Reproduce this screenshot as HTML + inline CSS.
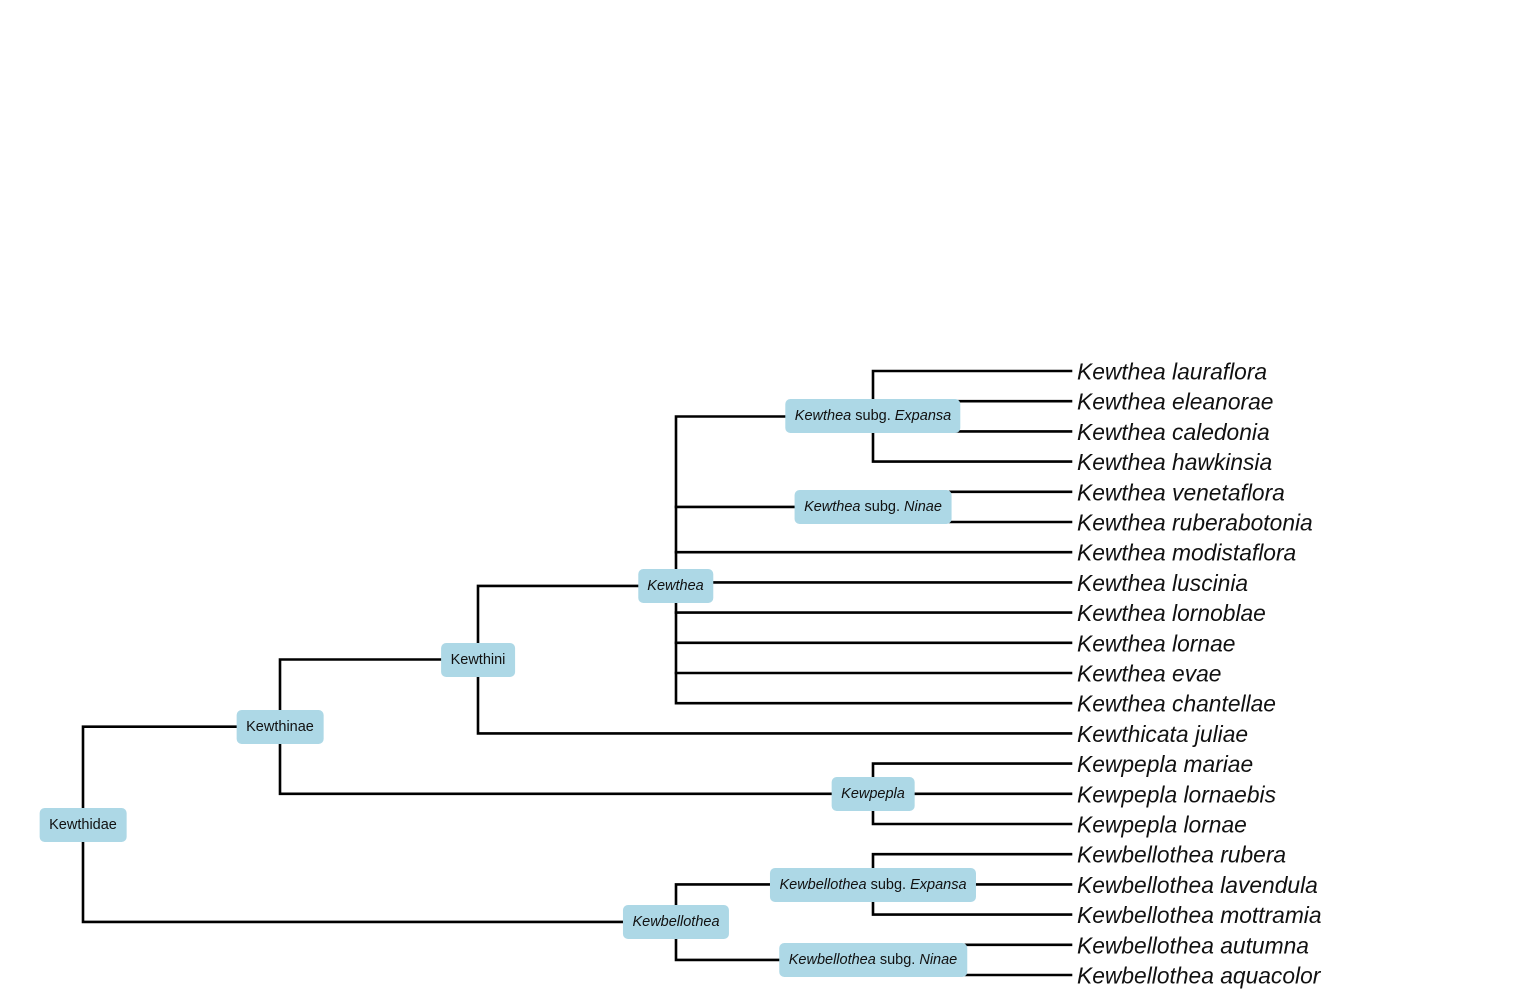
<!DOCTYPE html>
<html>
<head>
<meta charset="utf-8">
<style>
  html, body { margin:0; padding:0; background:#fff; }
  body { width:1536px; height:1008px; position:relative; overflow:hidden; font-family:"Liberation Sans", Arial, sans-serif; }
  svg { position:absolute; left:0; top:0; }
  .n { position:absolute; transform:translate(-50%,-50%); height:34px; line-height:34px; padding:0 9.5px;
       background:#add8e6; border-radius:5px; font-size:14.5px; color:#111; white-space:nowrap; }
  .n i { font-style:italic; }
  .leaf { font-family:"Liberation Sans", Arial, sans-serif; font-style:italic; font-size:22.8px; fill:#111; }
</style>
</head>
<body>
<svg width="1536" height="1008" viewBox="0 0 1536 1008">
  <g stroke="#000" stroke-width="2.6" fill="none" stroke-linecap="square">
    <path d="M280 726.7 H83 V921.9 H676"/>
    <path d="M478 659.5 H280 V793.8 H873"/>
    <path d="M676 585.9 H478 V733.4 H1071"/>
    <path d="M873 416.5 H676 V703.2 H1071"/>
    <path d="M676 506.9 H873"/>
    <path d="M676 552.2 H1071"/>
    <path d="M676 582.4 H1071"/>
    <path d="M676 612.6 H1071"/>
    <path d="M676 642.8 H1071"/>
    <path d="M676 673 H1071"/>
    <path d="M1071 371 H873 V461.6 H1071"/>
    <path d="M873 401.2 H1071"/>
    <path d="M873 431.4 H1071"/>
    <path d="M1071 491.8 H873 V522 H1071"/>
    <path d="M1071 763.6 H873 V824 H1071"/>
    <path d="M873 793.8 H1071"/>
    <path d="M873 884.4 H676 V959.9 H873"/>
    <path d="M1071 854.2 H873 V914.6 H1071"/>
    <path d="M873 884.4 H1071"/>
    <path d="M1071 944.8 H873 V975 H1071"/>
  </g>
  <g class="leaf">
    <text x="1077" y="379.5">Kewthea lauraflora</text>
    <text x="1077" y="409.7">Kewthea eleanorae</text>
    <text x="1077" y="439.9">Kewthea caledonia</text>
    <text x="1077" y="470.1">Kewthea hawkinsia</text>
    <text x="1077" y="500.3">Kewthea venetaflora</text>
    <text x="1077" y="530.5">Kewthea ruberabotonia</text>
    <text x="1077" y="560.7">Kewthea modistaflora</text>
    <text x="1077" y="590.9">Kewthea luscinia</text>
    <text x="1077" y="621.1">Kewthea lornoblae</text>
    <text x="1077" y="651.3">Kewthea lornae</text>
    <text x="1077" y="681.5">Kewthea evae</text>
    <text x="1077" y="711.7">Kewthea chantellae</text>
    <text x="1077" y="741.9">Kewthicata juliae</text>
    <text x="1077" y="772.1">Kewpepla mariae</text>
    <text x="1077" y="802.3">Kewpepla lornaebis</text>
    <text x="1077" y="832.5">Kewpepla lornae</text>
    <text x="1077" y="862.7">Kewbellothea rubera</text>
    <text x="1077" y="892.9">Kewbellothea lavendula</text>
    <text x="1077" y="923.1">Kewbellothea mottramia</text>
    <text x="1077" y="953.3">Kewbellothea autumna</text>
    <text x="1077" y="983.5">Kewbellothea aquacolor</text>
  </g>
</svg>

<div class="n" style="left:83px;top:825px;">Kewthidae</div>
<div class="n" style="left:280px;top:726.5px;">Kewthinae</div>
<div class="n" style="left:478px;top:659.5px;">Kewthini</div>
<div class="n" style="left:675.5px;top:586px;"><i>Kewthea</i></div>
<div class="n" style="left:873px;top:416px;"><i>Kewthea</i> subg. <i>Expansa</i></div>
<div class="n" style="left:873px;top:507px;"><i>Kewthea</i> subg. <i>Ninae</i></div>
<div class="n" style="left:873px;top:794px;"><i>Kewpepla</i></div>
<div class="n" style="left:676px;top:922px;"><i>Kewbellothea</i></div>
<div class="n" style="left:873px;top:885px;"><i>Kewbellothea</i> subg. <i>Expansa</i></div>
<div class="n" style="left:873px;top:960px;"><i>Kewbellothea</i> subg. <i>Ninae</i></div>
</body>
</html>
